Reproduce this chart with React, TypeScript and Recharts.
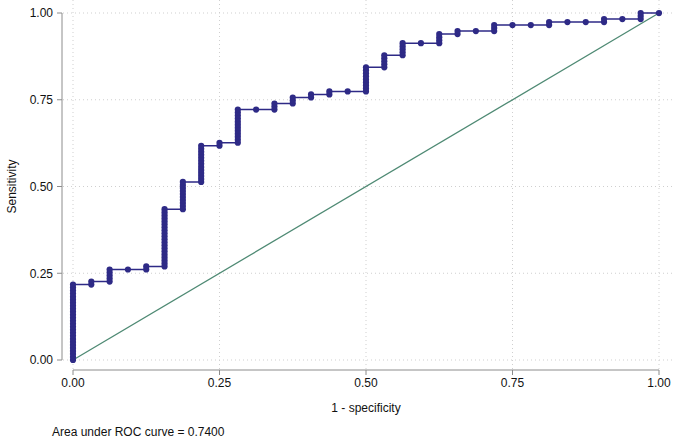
import React from 'react';
import { ScatterChart, Scatter, XAxis, YAxis, CartesianGrid } from 'recharts';

// ROC points: 32 negatives, ~115 positives
const negatives = 32;
const positives = 115;

// true-positive counts at each false-positive count (index = fp count)
const tpAtFp: number[][] = [
  [0, 1, 2, 3, 4, 5, 6, 7, 8, 9, 10, 11, 12, 13, 14, 15, 16, 17, 18, 19, 20, 21, 22, 23, 24, 25],
  [25, 26],
  [26, 27, 28, 29, 30],
  [30],
  [30, 31],
  [31, 32, 33, 34, 35, 36, 37, 38, 39, 40, 41, 42, 43, 44, 45, 46, 47, 48, 49, 50],
  [50, 51, 52, 53, 54, 55, 56, 57, 58, 59],
  [59, 60, 61, 62, 63, 64, 65, 66, 67, 68, 69, 70, 71],
  [71, 72],
  [72, 73, 74, 75, 76, 77, 78, 79, 80, 81, 82, 83],
  [83],
  [83, 84, 85],
  [85, 86, 87],
  [87, 88],
  [88, 89],
  [89],
  [89, 90, 91, 92, 93, 94, 95, 96, 97],
  [97, 98, 99, 100, 101],
  [101, 102, 103, 104, 105],
  [105],
  [105, 106, 107, 108],
  [108, 109],
  [109],
  [109, 110, 111],
  [111],
  [111],
  [111, 112],
  [112],
  [112],
  [112, 113],
  [113],
  [113, 114, 115],
  [115],
];

const axisTicks = [0, 0.25, 0.5, 0.75, 1];
const chanceLine = [
  { x: 0, y: 0 },
  { x: 1, y: 1 },
];
const xLabel = '1 - specificity';
const yLabel = 'Sensitivity';
const aucNote = 'Area under ROC curve = 0.7400';

const rocData = tpAtFp.flatMap((tps, fp) =>
  tps.map((tp) => ({ x: fp / negatives, y: tp / positives }))
);

const FONT = '"Liberation Sans", Arial, sans-serif';
const CURVE = '#2e2a86';
const AXIS = '#8c8c8c';

const tickStyle = { fontSize: 12, fill: '#111', fontFamily: FONT };

export default function App() {
  return (
    <div style={{ position: 'absolute', left: 0, top: 0, width: 675, height: 441, background: '#fff' }}>
      <ScatterChart
        width={675}
        height={441}
        margin={{ top: 13, right: 16, bottom: 26, left: 0 }}
        style={{ fontFamily: FONT }}
      >
        {/* spacer axes push the real axes away from the plot region */}
        <XAxis xAxisId="gap" type="number" dataKey="x" domain={[0, 1]} height={10} axisLine={false} tickLine={false} tick={false} />
        <YAxis yAxisId="gap" type="number" dataKey="y" domain={[0, 1]} width={11} axisLine={false} tickLine={false} tick={false} />
        <XAxis
          xAxisId="main"
          type="number"
          dataKey="x"
          domain={[0, 1]}
          ticks={axisTicks}
          height={45}
          stroke={AXIS}
          tickSize={5}
          tickMargin={3}
          tick={tickStyle}
          tickFormatter={(v: number) => v.toFixed(2)}
          label={{ value: xLabel, position: 'insideBottom', offset: 3, style: { fontSize: 12, fill: '#111', fontFamily: FONT } }}
        />
        <YAxis
          yAxisId="main"
          type="number"
          dataKey="y"
          domain={[0, 1]}
          ticks={axisTicks}
          width={62}
          stroke={AXIS}
          tickSize={5}
          tickMargin={4}
          tick={tickStyle}
          tickFormatter={(v: number) => v.toFixed(2)}
          label={{ value: yLabel, angle: -90, position: 'center', dx: -19, style: { fontSize: 12, fill: '#111', fontFamily: FONT } }}
        />
        <CartesianGrid
          xAxisId="main"
          yAxisId="main"
          x={63}
          y={0}
          width={610}
          height={371}
          stroke="#cfcfcf"
          strokeDasharray="1 3"
        />
        <Scatter
          xAxisId="main"
          yAxisId="main"
          data={chanceLine}
          line={{ stroke: '#4f8a74', strokeWidth: 1.3 }}
          lineType="joint"
          shape={() => <g />}
          isAnimationActive={false}
        />
        <Scatter
          xAxisId="main"
          yAxisId="main"
          data={rocData}
          line={{ stroke: CURVE, strokeWidth: 1.5 }}
          lineType="joint"
          shape={(p: any) => <circle cx={p.cx} cy={p.cy} r={3.1} fill={CURVE} />}
          isAnimationActive={false}
        />
      </ScatterChart>
      <div
        style={{
          position: 'absolute',
          left: 52,
          top: 425,
          fontSize: 12,
          fontFamily: FONT,
          color: '#111',
          whiteSpace: 'nowrap',
        }}
      >
        {aucNote}
      </div>
    </div>
  );
}
